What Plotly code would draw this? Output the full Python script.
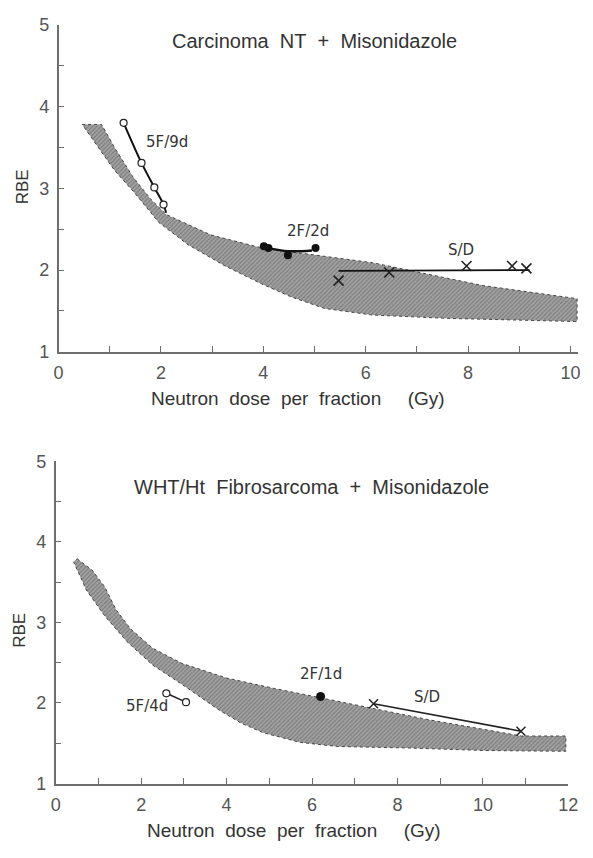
import plotly.graph_objects as go

W, H = 593, 858

# ---------------- Top panel data: Carcinoma NT + Misonidazole ----------------
top_band_upper_x = [0.46, 0.84, 1.09, 1.45, 1.81, 2.10, 2.97, 3.97, 5.05, 6.13, 7.21, 8.29, 10.13]
top_band_upper_y = [3.78, 3.78, 3.50, 3.14, 2.86, 2.68, 2.43, 2.27, 2.18, 2.09, 1.95, 1.81, 1.65]
top_band_lower_x = [0.46, 1.09, 1.49, 1.96, 2.53, 3.25, 3.97, 4.55, 5.20, 6.13, 7.57, 10.13]
top_band_lower_y = [3.78, 3.22, 2.94, 2.58, 2.31, 2.05, 1.83, 1.67, 1.53, 1.45, 1.41, 1.37]

top_5f9d_x = [1.27, 1.62, 1.87, 2.05]
top_5f9d_y = [3.80, 3.31, 3.01, 2.80]
top_5f9d_line_x = [1.27, 1.62, 1.87, 2.05, 2.10]
top_5f9d_line_y = [3.80, 3.31, 3.01, 2.80, 2.70]

top_2f2d_x = [4.01, 4.10, 4.48, 5.02]
top_2f2d_y = [2.29, 2.27, 2.18, 2.27]
top_2f2d_line_x = [3.98, 4.50, 4.95]
top_2f2d_line_y = [2.28, 2.23, 2.24]

top_sd_x = [5.47, 6.46, 7.97, 8.86, 9.14]
top_sd_y = [1.87, 1.97, 2.05, 2.05, 2.02]
top_sd_line_x = [5.47, 9.20]
top_sd_line_y = [1.99, 2.00]

# ---------------- Bottom panel data: WHT/Ht Fibrosarcoma + Misonidazole ----------------
bot_band_upper_x = [0.50, 0.85, 1.15, 1.41, 1.75, 2.27, 2.96, 4.00, 5.03, 6.16, 7.45, 8.75, 10.04, 10.90, 11.94]
bot_band_upper_y = [3.79, 3.65, 3.44, 3.16, 2.92, 2.68, 2.49, 2.31, 2.19, 2.07, 1.93, 1.79, 1.67, 1.59, 1.59]
bot_band_lower_x = [0.42, 0.72, 1.15, 1.67, 2.27, 2.96, 3.83, 4.34, 4.86, 5.73, 6.59, 8.32, 10.04, 11.94]
bot_band_lower_y = [3.75, 3.40, 3.08, 2.76, 2.47, 2.23, 1.91, 1.75, 1.63, 1.51, 1.46, 1.44, 1.41, 1.40]

bot_5f4d_x = [2.59, 3.05]
bot_5f4d_y = [2.12, 2.01]
bot_2f1d_x = [6.20]
bot_2f1d_y = [2.08]
bot_sd_x = [7.44, 10.89]
bot_sd_y = [1.99, 1.65]

top_title = "Carcinoma\u00a0 NT\u00a0 +\u00a0 Misonidazole"
bot_title = "WHT/Ht\u00a0 Fibrosarcoma\u00a0 +\u00a0 Misonidazole"
x_title = "Neutron\u00a0 dose\u00a0 per\u00a0 fraction\u00a0\u00a0\u00a0\u00a0 (Gy)"
y_title = "RBE"

FONT = "Liberation Sans, Arial, sans-serif"
LFONT = "DejaVu Sans, Liberation Sans, sans-serif"
AXC = "#6e6e6e"
TXT = "#333333"


def px_x(p):
    return p / W


def px_y(p):
    return 1 - p / H


fig = go.Figure()


def band(xu, yu, xl, yl, xa, ya):
    xs = list(xu) + list(reversed(xl)) + [xu[0]]
    ys = list(yu) + list(reversed(yl)) + [yu[0]]
    fig.add_trace(go.Scatter(
        x=xs, y=ys, mode="lines", fill="toself",
        fillcolor="#999999",
        fillpattern=dict(shape="/", bgcolor="#a2a2a2", fgcolor="#4e4e4e", size=3, solidity=0.35),
        line=dict(color="#444444", width=1, dash="dot"),
        xaxis=xa, yaxis=ya, hoverinfo="skip", showlegend=False))


band(top_band_upper_x, top_band_upper_y, top_band_lower_x, top_band_lower_y, "x", "y")
band(bot_band_upper_x, bot_band_upper_y, bot_band_lower_x, bot_band_lower_y, "x2", "y2")

# top panel series
fig.add_trace(go.Scatter(x=top_5f9d_line_x, y=top_5f9d_line_y, mode="lines", line=dict(color="#111", width=2, shape="spline"),
                         xaxis="x", yaxis="y", showlegend=False))
fig.add_trace(go.Scatter(x=top_5f9d_x, y=top_5f9d_y, mode="markers",
                         marker=dict(symbol="circle", size=7, color="white", line=dict(color="#222", width=1.2)),
                         xaxis="x", yaxis="y", showlegend=False))
fig.add_trace(go.Scatter(x=top_2f2d_line_x, y=top_2f2d_line_y, mode="lines", line=dict(color="#111", width=2.5, shape="spline"),
                         xaxis="x", yaxis="y", showlegend=False))
fig.add_trace(go.Scatter(x=top_2f2d_x, y=top_2f2d_y, mode="markers",
                         marker=dict(symbol="circle", size=8, color="#111"),
                         xaxis="x", yaxis="y", showlegend=False))
fig.add_trace(go.Scatter(x=top_sd_line_x, y=top_sd_line_y, mode="lines", line=dict(color="#111", width=1.8),
                         xaxis="x", yaxis="y", showlegend=False))
fig.add_trace(go.Scatter(x=top_sd_x, y=top_sd_y, mode="markers",
                         marker=dict(symbol="x-thin-open", size=10, color="#222", line=dict(color="#222", width=1.6)),
                         xaxis="x", yaxis="y", showlegend=False))

# bottom panel series
fig.add_trace(go.Scatter(x=bot_5f4d_x, y=bot_5f4d_y, mode="lines+markers", line=dict(color="#222", width=1.5),
                         marker=dict(symbol="circle", size=7, color="white", line=dict(color="#222", width=1.2)),
                         xaxis="x2", yaxis="y2", showlegend=False))
fig.add_trace(go.Scatter(x=bot_2f1d_x, y=bot_2f1d_y, mode="markers",
                         marker=dict(symbol="circle", size=9, color="#111"),
                         xaxis="x2", yaxis="y2", showlegend=False))
fig.add_trace(go.Scatter(x=bot_sd_x, y=bot_sd_y, mode="lines+markers", line=dict(color="#222", width=1.5),
                         marker=dict(symbol="x-thin-open", size=9, color="#222", line=dict(color="#222", width=1.5)),
                         xaxis="x2", yaxis="y2", showlegend=False))

axis_common = dict(showline=True, linecolor=AXC, linewidth=1.5, ticks="inside", tickcolor=AXC, ticklen=6,
                   tickwidth=1.2, showgrid=False, zeroline=False, fixedrange=True, ticklabeloverflow="allow",
                   tickfont=dict(family=FONT, size=18, color="#555"))

fig.update_layout(
    width=W, height=H, margin=dict(l=0, r=0, t=0, b=0),
    paper_bgcolor="white", plot_bgcolor="white", showlegend=False,
    xaxis=dict(domain=[px_x(55), px_x(588)], range=[0, 10.15], anchor="y", tickvals=[0, 2, 4, 6, 8, 10],
               minor=dict(ticks="inside", tickvals=[1, 3, 5, 7, 9], ticklen=6, tickcolor=AXC, tickwidth=1.2),
               ticklabelstandoff=4, **axis_common),
    yaxis=dict(domain=[px_y(350), px_y(15)], range=[1, 5], anchor="x", tickvals=[1, 2, 3, 4, 5],
               minor=dict(ticks="inside", tickvals=[1.5, 2.5, 3.5, 4.5], ticklen=6, tickcolor=AXC, tickwidth=1.2),
               ticklabelstandoff=4, **axis_common),
    xaxis2=dict(domain=[px_x(52), px_x(578)], range=[0, 12], anchor="y2", tickvals=[0, 2, 4, 6, 8, 10, 12],
                minor=dict(ticks="inside", tickvals=[1, 3, 5, 7, 9, 11], ticklen=6, tickcolor=AXC, tickwidth=1.2),
                ticklabelstandoff=4, **axis_common),
    yaxis2=dict(domain=[px_y(792), px_y(462)], range=[1, 5], anchor="x2", tickvals=[1, 2, 3, 4, 5],
                minor=dict(ticks="inside", tickvals=[1.5, 2.5, 3.5, 4.5], ticklen=6, tickcolor=AXC, tickwidth=1.2),
                ticklabelstandoff=4, **axis_common),
)

ann = []


def data_text(text, x, y, xr, yr, size=15, xanchor="center", family=LFONT):
    ann.append(dict(text=text, x=x, y=y, xref=xr, yref=yr, showarrow=False, xanchor=xanchor, yanchor="middle",
                    font=dict(family=family, size=size, color=TXT)))


data_text(top_title, 5.0, 4.80, "x", "y", size=20, family=FONT)
data_text("5F/9d", 2.11, 3.56, "x", "y")
data_text("2F/2d", 4.87, 2.48, "x", "y")
data_text("S/D", 7.86, 2.24, "x", "y")

data_text(bot_title, 5.98, 4.68, "x2", "y2", size=20, family=FONT)
data_text("5F/4d", 2.67, 1.96, "x2", "y2", xanchor="right")
data_text("2F/1d", 6.2, 2.36, "x2", "y2")
data_text("S/D", 8.7, 2.07, "x2", "y2")

for (cx, cy) in [(301, 398), (297, 840)]:
    ann.append(dict(text=x_title, x=px_x(cx), y=px_y(cy), xref="paper", yref="paper", showarrow=False,
                    xanchor="center", yanchor="middle", font=dict(family=FONT, size=19, color=TXT)))
for (cx, cy) in [(18, 181), (15, 635)]:
    ann.append(dict(text=y_title, x=px_x(cx), y=px_y(cy), xref="paper", yref="paper", showarrow=False,
                    textangle=-90, xanchor="center", yanchor="middle", font=dict(family=FONT, size=17, color=TXT)))

fig.update_layout(annotations=ann)
fig.write_html("out.html", config={"displayModeBar": False},
               post_script="document.body.style.margin='0';document.body.style.padding='0';"
                           "document.body.style.overflow='hidden';")
